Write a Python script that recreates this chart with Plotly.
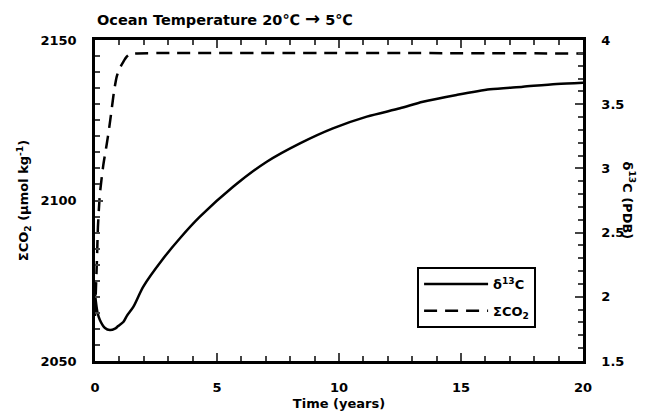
import plotly.graph_objects as go

# ---- data ----
t_co2 = [0, 0.04, 0.08, 0.12, 0.2, 0.34, 0.48, 0.58, 0.68, 0.78, 0.89, 1.0, 1.16, 1.3, 1.43, 1.6, 20]
co2 = [2064, 2073, 2081.5, 2091.7, 2102, 2111, 2117.5, 2122.5, 2128.2, 2134, 2138.6, 2141,
       2143.2, 2144.8, 2145.6, 2145.8, 2145.8]

t_d13 = [0, 0.1, 0.2, 0.41, 0.61, 0.82, 0.95, 1.16, 1.3, 1.57, 1.98, 2.75, 3.5, 4.3, 5.66,
         7.04, 8.4, 9.75, 11.14, 12.5, 13.44, 14.82, 16.19, 17.54, 18.92, 20]
d13 = [2.02, 1.88, 1.82, 1.757, 1.741, 1.752, 1.772, 1.804, 1.85, 1.921, 2.08, 2.287, 2.46,
       2.624, 2.857, 3.052, 3.195, 3.312, 3.403, 3.468, 3.519, 3.572, 3.616, 3.636, 3.657,
       3.667]

x_ticks = [0, 5, 10, 15, 20]
y_left_ticks = [2050, 2100, 2150]
y_right_ticks = [1.5, 2, 2.5, 3, 3.5, 4]
y_right_labels = ["1.5", "2", "2.5", "3", "3.5", "4"]

FONT = "DejaVu Sans, Liberation Sans, Arial, sans-serif"
BOLD = dict(family=FONT, size=13, color="black", weight="bold")

fig = go.Figure()
fig.add_trace(go.Scatter(x=t_d13, y=d13, mode="lines", name="δ<sup>13</sup>C",
                         line=dict(color="black", width=2.5, shape="spline", smoothing=0.8),
                         yaxis="y2", legendgroup="a"))
fig.add_trace(go.Scatter(x=t_co2, y=co2, mode="lines", name="ΣCO<sub>2</sub>",
                         line=dict(color="black", width=2.5, dash="13px,8px",
                                   shape="spline", smoothing=0.6),
                         legendgroup="b"))

fig.update_layout(
    width=645, height=414,
    margin=dict(l=95, r=62, t=40, b=53, autoexpand=False),
    paper_bgcolor="white", plot_bgcolor="white",
    font=BOLD,
    title=dict(text="Ocean Temperature 20℃\u00a0<span style='font-size:18px'>→</span>\u00a05℃",
               x=97 / 645, xanchor="left",
               xref="container", y=1 - 20 / 414, yanchor="middle", yref="container",
               automargin=False,
               font=dict(family=FONT, size=14.5, color="black", weight="bold")),
    showlegend=True,
    legend=dict(x=0.66, y=0.293, xanchor="left", yanchor="top",
                bordercolor="black", borderwidth=2, bgcolor="white",
                font=BOLD, tracegroupgap=7, traceorder="grouped", itemwidth=64),
    xaxis=dict(range=[0, 20], tickvals=x_ticks, ticks="inside", ticklen=8, tickwidth=2,
               showline=True, linewidth=2.5, linecolor="black", mirror="ticks",
               showgrid=False, zeroline=False, ticklabelstandoff=13, automargin=False,
               minor=dict(dtick=1, ticks="inside", ticklen=5, tickwidth=2),
               title=dict(text="Time (years)", standoff=5, font=BOLD)),
    yaxis=dict(range=[2050, 2150], tickvals=y_left_ticks, ticks="inside", ticklen=8,
               tickwidth=2, showline=True, linewidth=2.5, linecolor="black",
               showgrid=False, zeroline=False, ticklabelstandoff=13, automargin=False,
               minor=dict(dtick=5, ticks="inside", ticklen=5, tickwidth=2),
               title=dict(text="ΣCO<sub>2</sub> (μmol kg<sup>-1</sup>)", standoff=9,
                          font=BOLD)),
    yaxis2=dict(range=[1.5, 4], overlaying="y", side="right", tickvals=y_right_ticks,
                ticktext=y_right_labels, ticks="inside", ticklen=8, tickwidth=2,
                showline=True, linewidth=2.5, linecolor="black", showgrid=False,
                zeroline=False, ticklabelstandoff=13, automargin=False,
                minor=dict(dtick=0.1, ticks="inside", ticklen=5, tickwidth=2)),
    annotations=[dict(text="δ<sup>13</sup>C (PDB)", xref="paper", yref="paper",
                      x=(629 - 95) / 488, y=0.5, xanchor="center", yanchor="middle",
                      textangle=90, showarrow=False, font=BOLD)],
)

fig.write_html("out.html", config={"displayModeBar": False},
               post_script="document.body.style.margin='0';document.body.style.padding='0';")
